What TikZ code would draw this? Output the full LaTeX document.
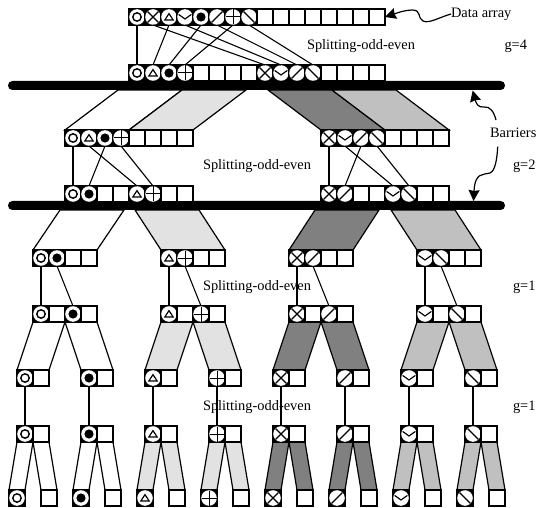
\documentclass[tikz,border=0pt]{standalone}
\usepackage{fontspec}
\setmainfont{Liberation Serif}
\usetikzlibrary{arrows.meta}
\tikzset{
  cellbox/.style={draw=black,fill=white,line width=1.15pt,rectangle,minimum size=16pt,inner sep=0pt,outer sep=0pt},
  link/.style={draw=black,line width=1.1pt},
  band/.style={draw=black,line width=1.2pt,line join=miter},
  barnode/.style={fill=black,rectangle,rounded corners=4.4pt,minimum width=497pt,minimum height=9pt,inner sep=0pt,outer sep=0pt},
  lab/.style={font=\fontsize{14.4pt}{16pt}\selectfont,inner sep=0pt,outer sep=0pt,anchor=base west},
  pointer/.style={draw=black,line width=1.2pt,-{Stealth[length=11pt,width=11pt,inset=1pt]}},
  symline/.style={line width=1.15pt,draw=black},
}
\definecolor{bandA}{gray}{0.886}
\definecolor{bandB}{gray}{0.5}
\definecolor{bandC}{gray}{0.753}
\newcommand\symbase{\fill[black] (-8,-8) rectangle (8,8);\fill[white] (0,0) circle (7.8);}
\newcommand\syme{}
\newcommand\symo{\symbase\draw[line width=1.4pt] (0,0) circle (4.2);}
\newcommand\symdot{\symbase\fill[black] (0,0) circle (4.6);}
\newcommand\symtri{\symbase\draw[symline,line join=miter] (-4.2,3) -- (0,-3.4) -- (4.2,3) -- cycle;}
\newcommand\symvee{\symbase\draw[symline] (-6.4,-2.6) -- (0,2) -- (6.4,-2.6);}
\newcommand\symx{\symbase\draw[symline] (-5.4,-5.4) -- (5.4,5.4) (-5.4,5.4) -- (5.4,-5.4);}
\newcommand\symsl{\symbase\draw[symline] (-5.4,5.4) -- (5.4,-5.4);}
\newcommand\symbs{\symbase\draw[symline] (-5.4,-5.4) -- (5.4,5.4);}
\newcommand\symplus{\symbase\draw[line width=1pt] (-7.5,0) -- (7.5,0) (0,-7.5) -- (0,7.5);}
\newcommand\cellrow[4]{%
  \foreach \s [count=\i] in {#4}{%
    \node[cellbox] (#1-\i) at ({#2+16*\i-8},{#3+8}) {};
    \begin{scope}[shift={(#1-\i.center)}]\csname sym\s\endcsname\end{scope}
  }}
\begin{document}
\begin{tikzpicture}[x=1pt,y=-1pt]
\useasboundingbox (0,0) rectangle (536,508);
% bands below barrier 1
\path[band,fill=white] (118,90) -- (182,90) -- (129,130) -- (65,130) -- cycle;
\path[band,fill=bandA] (182,90) -- (246,90) -- (193,130) -- (129,130) -- cycle;
\path[band,fill=bandB] (268,90) -- (332,90) -- (385,130) -- (321,130) -- cycle;
\path[band,fill=bandC] (332,90) -- (396,90) -- (449,130) -- (385,130) -- cycle;
% bands below barrier 2
\path[band,fill=white] (60,210) -- (124,210) -- (97,250) -- (33,250) -- cycle;
\path[band,fill=bandA] (135,210) -- (199,210) -- (225,250) -- (161,250) -- cycle;
\path[band,fill=bandB] (315,210) -- (379,210) -- (353,250) -- (289,250) -- cycle;
\path[band,fill=bandC] (391,210) -- (455,210) -- (481,250) -- (417,250) -- cycle;
% bands below row 6
\foreach \x/\c in {33/white,161/bandA,289/bandB,417/bandC}{
  \path[band,fill=\c] (\x,322) -- (\x+32,322) -- (\x+16,370) -- (\x-16,370) -- cycle;
  \path[band,fill=\c] (\x+32,322) -- (\x+64,322) -- (\x+80,370) -- (\x+48,370) -- cycle;
}
% bands below row 8
\foreach \x/\c in {17/white,81/white,145/bandA,209/bandA,273/bandB,337/bandB,401/bandC,465/bandC}{
  \path[band,fill=\c] (\x,442) -- (\x+16,442) -- (\x+8,490) -- (\x-8,490) -- cycle;
  \path[band,fill=\c] (\x+16,442) -- (\x+32,442) -- (\x+40,490) -- (\x+24,490) -- cycle;
}
% labels
\node[lab] (lsplitA) at (307,50) {Splitting-odd-even};
\node[lab] (lsplitB) at (203,170) {Splitting-odd-even};
\node[lab] (lsplitC) at (203,290) {Splitting-odd-even};
\node[lab] (lsplitD) at (203,410) {Splitting-odd-even};
\node[lab] (gA) at (504.5,50) {g=4};
\node[lab] (gB) at (513,170) {g=2};
\node[lab] (gC) at (513,290) {g=1};
\node[lab] (gD) at (513,410) {g=1};
\node[lab] (ldata) at (451,18) {Data array};
\node[lab] (lbar) at (490,138) {Barriers};
% barriers
\node[barnode] (barA) at (256.5,85.5) {};
\node[barnode] (barB) at (256.5,205.5) {};
% arrays
\cellrow{t}{129}{9}{o,x,tri,vee,dot,sl,plus,bs,e,e,e,e,e,e,e,e}
\cellrow{s}{129}{65}{o,tri,dot,plus,e,e,e,e,x,vee,sl,bs,e,e,e,e}
\cellrow{p}{65}{130}{o,tri,dot,plus,e,e,e,e}
\cellrow{q}{321}{130}{x,vee,sl,bs,e,e,e,e}
\cellrow{u}{65}{186}{o,dot,e,e,tri,plus,e,e}
\cellrow{v}{321}{186}{x,sl,e,e,vee,bs,e,e}
\cellrow{aa}{33}{250}{o,dot,e,e}
\cellrow{ab}{161}{250}{tri,plus,e,e}
\cellrow{ac}{289}{250}{x,sl,e,e}
\cellrow{ad}{417}{250}{vee,bs,e,e}
\cellrow{ba}{33}{306}{o,e,dot,e}
\cellrow{bb}{161}{306}{tri,e,plus,e}
\cellrow{bc}{289}{306}{x,e,sl,e}
\cellrow{bd}{417}{306}{vee,e,bs,e}
\foreach \k/\x/\kind in {1/17/o,2/81/dot,3/145/tri,4/209/plus,5/273/x,6/337/sl,7/401/vee,8/465/bs}{
  \cellrow{g\k}{\x}{370}{\kind,e}
  \cellrow{h\k}{\x}{426}{\kind,e}
  \cellrow{j\k}{\x-8}{490}{\kind}
  \cellrow{m\k}{\x+24}{490}{e}
  \draw[link] (g\k-1.south) -- (h\k-1.north);
}
% links
\draw[link] (t-1.south) -- (s-1.north);
\draw[link] (t-3.south) -- (s-2.north);
\draw[link] (t-5.south) -- (s-3.north);
\draw[link] (t-7.south) -- (s-4.north);
\draw[link] (t-2.south) -- (s-9.north);
\draw[link] (t-4.south) -- (s-10.north);
\draw[link] (t-6.south) -- (s-11.north);
\draw[link] (t-8.south) -- (s-12.north);
\draw[link] (p-1.south) -- (u-1.north);
\draw[link] (p-2.south) -- (u-5.north);
\draw[link] (p-3.south) -- (u-2.north);
\draw[link] (p-4.south) -- (u-6.north);
\draw[link] (q-1.south) -- (v-1.north);
\draw[link] (q-2.south) -- (v-5.north);
\draw[link] (q-3.south) -- (v-2.north);
\draw[link] (q-4.south) -- (v-6.north);
\foreach \g in {a,b,c,d}{
  \draw[link] (a\g-1.south) -- (b\g-1.north);
  \draw[link] (a\g-2.south) -- (b\g-3.north);
}
% pointers
\coordinate (startA) at (451,14);
\coordinate (tipData) at (t-16.east);
\coordinate (startB) at (496,120);
\coordinate (tipB) at (472.7,90.5);
\coordinate (startC) at (497.7,146.7);
\coordinate (tipC) at (473.5,201);
\draw[pointer] (startA) .. controls (440,17) and (429,24) .. (423,21) .. controls (417,18) and (422,10) .. (412,10) .. controls (405,10) and (397,13) .. (tipData);
\draw[pointer] (startB) .. controls (494,112) and (490,106) .. (484,107) .. controls (478,108) and (476,103) .. (tipB);
\draw[pointer] (startC) .. controls (497,160) and (495,171) .. (490,173) .. controls (483,175) and (475,172) .. (tipC);
\end{tikzpicture}
\end{document}
